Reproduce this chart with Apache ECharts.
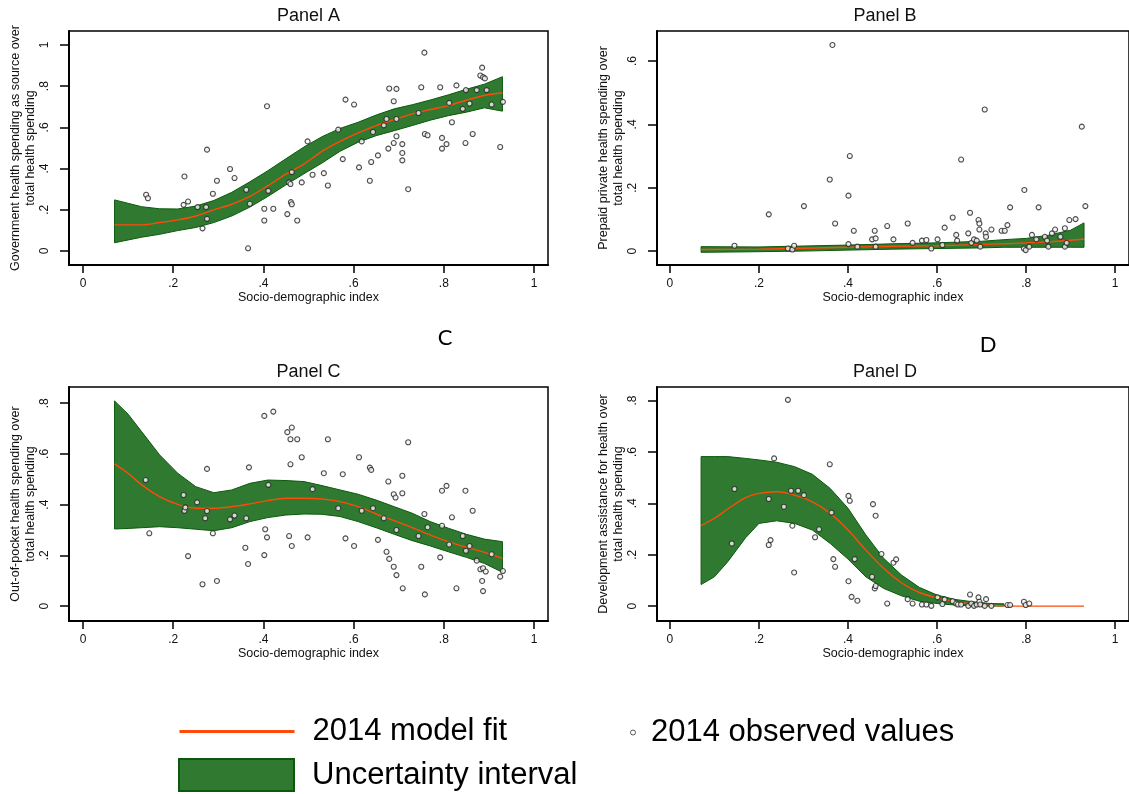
<!DOCTYPE html>
<html>
<head>
<meta charset="utf-8">
<script src="https://cdn.jsdelivr.net/npm/echarts@6/dist/echarts.min.js"></script>
<style>
html,body{margin:0;padding:0;background:#fff;}
#chart{width:1129px;height:794px;}
</style>
</head>
<body>
<div id="chart"></div>
<script>
// ---------- tick values / labels ----------
const sdiTicks = [0, 0.2, 0.4, 0.6, 0.8, 1];
const tickLabels = ['0', '.2', '.4', '.6', '.8', '1'];
const aYTicks = [0, 0.2, 0.4, 0.6, 0.8, 1];
const bYTicks = [0, 0.2, 0.4, 0.6];
const cYTicks = [0, 0.2, 0.4, 0.6, 0.8];
const dYTicks = [0, 0.2, 0.4, 0.6, 0.8];

const panelTitles = ['Panel A', 'Panel B', 'Panel C', 'Panel D'];
const xTitle = 'Socio-demographic index';
const yTitles = [
  'Government health spending as source over\ntotal health spending',
  'Prepaid private health spending over\ntotal health spending',
  'Out-of-pocket health spending over\ntotal health spending',
  'Development assistance for health over\ntotal health spending'
];

// ---------- Panel A ----------
const aX = [0.07,0.13,0.17,0.21,0.25,0.29,0.33,0.37,0.41,0.45,0.49,0.53,0.57,0.61,0.65,0.69,0.73,0.77,0.81,0.85,0.89,0.93];
const aFit = [0.127,0.127,0.138,0.151,0.170,0.200,0.227,0.265,0.317,0.373,0.422,0.484,0.532,0.573,0.609,0.638,0.666,0.687,0.706,0.732,0.755,0.768];
const aUpper = [0.248,0.215,0.205,0.204,0.218,0.245,0.285,0.336,0.390,0.448,0.505,0.555,0.595,0.625,0.660,0.690,0.710,0.733,0.758,0.785,0.810,0.846];
const aLower = [0.040,0.067,0.081,0.099,0.114,0.138,0.170,0.213,0.265,0.321,0.375,0.427,0.484,0.528,0.560,0.584,0.609,0.635,0.657,0.674,0.695,0.679];
const aObs = [[0.140,0.273],[0.144,0.256],[0.225,0.362],[0.223,0.224],[0.233,0.24],[0.254,0.213],[0.265,0.11],[0.273,0.213],[0.275,0.156],[0.275,0.492],[0.288,0.278],[0.297,0.341],[0.326,0.398],[0.336,0.354],[0.362,0.297],[0.366,0.013],[0.37,0.229],[0.402,0.205],[0.402,0.148],[0.408,0.703],[0.411,0.292],[0.422,0.205],[0.453,0.179],[0.457,0.333],[0.46,0.325],[0.461,0.237],[0.463,0.227],[0.463,0.383],[0.475,0.148],[0.485,0.333],[0.498,0.532],[0.509,0.37],[0.534,0.378],[0.543,0.318],[0.566,0.589],[0.576,0.446],[0.582,0.735],[0.601,0.711],[0.612,0.406],[0.618,0.532],[0.636,0.341],[0.639,0.432],[0.643,0.578],[0.654,0.464],[0.667,0.61],[0.673,0.641],[0.677,0.497],[0.679,0.789],[0.689,0.727],[0.689,0.524],[0.695,0.787],[0.695,0.641],[0.695,0.557],[0.708,0.519],[0.708,0.476],[0.708,0.44],[0.721,0.3],[0.744,0.67],[0.75,0.795],[0.757,0.963],[0.758,0.568],[0.764,0.562],[0.792,0.795],[0.796,0.549],[0.796,0.497],[0.806,0.519],[0.812,0.719],[0.818,0.625],[0.828,0.804],[0.842,0.69],[0.848,0.524],[0.849,0.781],[0.857,0.716],[0.864,0.568],[0.873,0.781],[0.881,0.852],[0.885,0.89],[0.887,0.844],[0.891,0.838],[0.895,0.781],[0.906,0.711],[0.925,0.505],[0.931,0.724]];

// ---------- Panel B ----------
const bX = [0.07,0.20,0.30,0.40,0.50,0.60,0.70,0.75,0.80,0.85,0.90,0.93];
const bFit = [0.005,0.006,0.009,0.012,0.015,0.017,0.021,0.023,0.026,0.029,0.034,0.038];
const bUpper = [0.014,0.013,0.016,0.019,0.023,0.026,0.031,0.036,0.040,0.050,0.066,0.089];
const bLower = [-0.004,-0.002,0.000,0.003,0.006,0.008,0.010,0.012,0.012,0.012,0.012,0.012];
const bObs = [[0.145,0.017],[0.222,0.116],[0.265,0.008],[0.275,0.005],[0.279,0.017],[0.301,0.142],[0.359,0.226],[0.365,0.651],[0.371,0.087],[0.401,0.175],[0.401,0.022],[0.404,0.3],[0.413,0.064],[0.421,0.014],[0.454,0.037],[0.46,0.064],[0.462,0.04],[0.462,0.014],[0.488,0.079],[0.502,0.037],[0.534,0.087],[0.545,0.026],[0.566,0.033],[0.576,0.035],[0.587,0.008],[0.601,0.037],[0.612,0.019],[0.617,0.074],[0.635,0.106],[0.643,0.051],[0.645,0.033],[0.654,0.289],[0.67,0.056],[0.674,0.121],[0.677,0.026],[0.683,0.037],[0.689,0.033],[0.693,0.098],[0.695,0.087],[0.695,0.068],[0.697,0.014],[0.707,0.447],[0.709,0.056],[0.71,0.045],[0.722,0.068],[0.745,0.064],[0.752,0.064],[0.758,0.082],[0.764,0.138],[0.795,0.008],[0.796,0.193],[0.799,0.003],[0.807,0.014],[0.813,0.051],[0.823,0.037],[0.828,0.138],[0.842,0.045],[0.847,0.033],[0.85,0.014],[0.858,0.056],[0.865,0.068],[0.877,0.045],[0.887,0.072],[0.887,0.014],[0.891,0.026],[0.897,0.098],[0.911,0.101],[0.925,0.393],[0.933,0.142]];

// ---------- Panel C ----------
const cX = [0.07,0.10,0.13,0.17,0.21,0.25,0.29,0.33,0.37,0.41,0.45,0.49,0.53,0.57,0.61,0.65,0.69,0.73,0.77,0.81,0.85,0.89,0.93];
const cFit = [0.561,0.524,0.478,0.432,0.401,0.386,0.386,0.392,0.403,0.416,0.425,0.425,0.422,0.412,0.392,0.363,0.337,0.309,0.280,0.254,0.232,0.212,0.188];
const cUpper = [0.809,0.757,0.688,0.596,0.524,0.471,0.447,0.458,0.484,0.497,0.495,0.491,0.475,0.458,0.441,0.418,0.392,0.366,0.333,0.307,0.283,0.264,0.254];
const cLower = [0.304,0.306,0.309,0.313,0.309,0.303,0.297,0.309,0.333,0.349,0.359,0.363,0.362,0.353,0.333,0.309,0.283,0.258,0.237,0.214,0.192,0.168,0.133];
const cObs = [[0.139,0.497],[0.147,0.287],[0.223,0.438],[0.225,0.376],[0.227,0.389],[0.233,0.197],[0.253,0.409],[0.265,0.086],[0.271,0.346],[0.275,0.541],[0.275,0.375],[0.288,0.287],[0.297,0.099],[0.326,0.342],[0.336,0.357],[0.36,0.23],[0.362,0.346],[0.366,0.166],[0.368,0.547],[0.402,0.201],[0.402,0.75],[0.404,0.303],[0.408,0.271],[0.411,0.478],[0.422,0.767],[0.453,0.686],[0.457,0.276],[0.46,0.658],[0.46,0.559],[0.463,0.237],[0.463,0.704],[0.475,0.658],[0.485,0.587],[0.498,0.271],[0.509,0.461],[0.534,0.524],[0.543,0.658],[0.566,0.386],[0.576,0.52],[0.582,0.267],[0.601,0.237],[0.612,0.587],[0.618,0.376],[0.636,0.546],[0.639,0.537],[0.643,0.386],[0.654,0.261],[0.667,0.346],[0.673,0.214],[0.677,0.491],[0.679,0.186],[0.689,0.441],[0.689,0.155],[0.693,0.428],[0.695,0.122],[0.695,0.3],[0.708,0.514],[0.708,0.445],[0.709,0.07],[0.721,0.646],[0.744,0.276],[0.75,0.155],[0.757,0.363],[0.758,0.046],[0.764,0.311],[0.792,0.192],[0.796,0.317],[0.796,0.455],[0.806,0.474],[0.812,0.243],[0.818,0.35],[0.828,0.07],[0.842,0.276],[0.848,0.455],[0.849,0.218],[0.857,0.237],[0.864,0.376],[0.873,0.179],[0.881,0.145],[0.885,0.099],[0.887,0.059],[0.887,0.149],[0.893,0.136],[0.906,0.204],[0.925,0.116],[0.931,0.138]];

// ---------- Panel D ----------
const dBandX = [0.07,0.10,0.13,0.17,0.20,0.24,0.28,0.32,0.36,0.40,0.44,0.48,0.52,0.56,0.60,0.64,0.68,0.72,0.75];
const dUpper = [0.582,0.582,0.582,0.575,0.569,0.560,0.543,0.513,0.458,0.381,0.277,0.186,0.121,0.073,0.043,0.026,0.017,0.010,0.009];
const dLower = [0.084,0.114,0.173,0.266,0.322,0.332,0.322,0.296,0.244,0.183,0.114,0.069,0.040,0.019,0.010,0.004,0.001,0.000,0.000];
const dFitX = [0.07,0.10,0.13,0.17,0.20,0.24,0.28,0.32,0.36,0.40,0.44,0.48,0.52,0.56,0.60,0.64,0.68,0.72,0.75,0.80,0.87,0.93];
const dFit = [0.313,0.342,0.378,0.422,0.439,0.445,0.432,0.406,0.361,0.296,0.218,0.147,0.091,0.053,0.032,0.017,0.009,0.004,0.001,0.000,0.000,0.000];
const dObs = [[0.139,0.244],[0.145,0.456],[0.222,0.417],[0.222,0.238],[0.226,0.257],[0.234,0.575],[0.256,0.387],[0.265,0.803],[0.272,0.449],[0.275,0.313],[0.279,0.131],[0.288,0.449],[0.301,0.432],[0.326,0.268],[0.335,0.299],[0.359,0.552],[0.363,0.364],[0.367,0.183],[0.371,0.153],[0.401,0.097],[0.401,0.429],[0.404,0.41],[0.408,0.036],[0.415,0.183],[0.421,0.021],[0.454,0.114],[0.456,0.397],[0.46,0.069],[0.462,0.078],[0.462,0.352],[0.475,0.203],[0.488,0.01],[0.502,0.169],[0.508,0.182],[0.534,0.027],[0.545,0.01],[0.566,0.006],[0.576,0.006],[0.587,0.001],[0.601,0.034],[0.612,0.008],[0.617,0.026],[0.635,0.019],[0.643,0.01],[0.647,0.006],[0.654,0.006],[0.67,0.001],[0.674,0.045],[0.677,0.01],[0.683,0.001],[0.689,0.006],[0.693,0.034],[0.695,0.017],[0.697,0.006],[0.707,0.001],[0.71,0.027],[0.722,0.001],[0.758,0.004],[0.764,0.004],[0.795,0.017],[0.799,0.004],[0.807,0.01]];

// ---------- styling ----------
const FONT = "'Liberation Sans', Arial, sans-serif";
const TXT = '#111';
const ORANGE = '#ff4a0a';
const GREEN = '#2f7a30';
const DKGREEN = '#0b5a0b';

const grids = [
  {left: 69, top: 31, width: 479, height: 234},
  {left: 657, top: 31, width: 480, height: 234},
  {left: 69, top: 387, width: 479, height: 234},
  {left: 657, top: 387, width: 480, height: 234}
];
const xRanges = [[-0.031, 1.031], [-0.029, 1.031], [-0.031, 1.031], [-0.029, 1.031]];
const yRanges = [[-0.068, 1.068], [-0.044, 0.695], [-0.059, 0.864], [-0.058, 0.853]];
const yTickSets = [aYTicks, bYTicks, cYTicks, dYTicks];

function fmtTick(v) {
  for (let i = 0; i < sdiTicks.length; i++) {
    if (Math.abs(sdiTicks[i] - v) < 1e-6) return tickLabels[i];
  }
  return '';
}

const xAxes = grids.map((g, i) => ({
  type: 'value', gridIndex: i, min: xRanges[i][0], max: xRanges[i][1],
  name: xTitle, nameLocation: 'middle', nameGap: 26,
  nameTextStyle: {fontFamily: FONT, fontSize: 12.5, color: TXT},
  axisLine: {show: true, onZero: false, lineStyle: {color: '#000', width: 2}},
  axisTick: {show: true, length: 8, customValues: sdiTicks, lineStyle: {color: '#000', width: 1.5}},
  axisLabel: {show: true, customValues: sdiTicks, formatter: fmtTick, margin: 13,
    fontFamily: FONT, fontSize: 12, color: TXT},
  splitLine: {show: false}
}));

const yAxes = grids.map((g, i) => ({
  type: 'value', gridIndex: i, min: yRanges[i][0], max: yRanges[i][1],
  name: yTitles[i], nameLocation: 'middle', nameRotate: 90, nameGap: 31,
  nameTextStyle: {fontFamily: FONT, fontSize: 12.5, lineHeight: 15, color: TXT, align: 'center'},
  axisLine: {show: true, onZero: false, lineStyle: {color: '#000', width: 2}},
  axisTick: {show: true, length: 9, customValues: yTickSets[i], lineStyle: {color: '#000', width: 1.5}},
  axisLabel: {show: true, customValues: yTickSets[i], formatter: fmtTick, rotate: 90, margin: 18,
    fontFamily: FONT, fontSize: 12, color: TXT},
  splitLine: {show: false}
}));

function band(i, xs, lo, hi) {
  return {
    type: 'custom', name: 'Uncertainty interval', coordinateSystem: 'cartesian2d',
    xAxisIndex: i, yAxisIndex: i, z: 1, silent: true,
    itemStyle: {color: GREEN, borderColor: DKGREEN, borderWidth: 2},
    data: [[xs[0], lo[0]]],
    renderItem: function (params, api) {
      const pts = [];
      for (let k = 0; k < xs.length; k++) pts.push(api.coord([xs[k], hi[k]]));
      for (let k = xs.length - 1; k >= 0; k--) pts.push(api.coord([xs[k], lo[k]]));
      return {type: 'polygon', shape: {points: pts},
        style: {fill: GREEN, stroke: DKGREEN, lineWidth: 1}};
    }
  };
}
function fit(i, xs, ys) {
  return {
    type: 'line', name: '2014 model fit', xAxisIndex: i, yAxisIndex: i, z: 3,
    symbol: 'none', smooth: 0.3, silent: true,
    lineStyle: {color: ORANGE, width: 1.4}, itemStyle: {color: ORANGE},
    data: xs.map((x, k) => [x, ys[k]])
  };
}
function obs(i, pts) {
  return {
    type: 'scatter', name: '2014 observed values', xAxisIndex: i, yAxisIndex: i, z: 4,
    symbol: 'circle', symbolSize: 5, silent: true,
    itemStyle: {color: '#f4f4f4', borderColor: '#222', borderWidth: 1.1},
    data: pts
  };
}

const series = [
  band(0, aX, aLower, aUpper), fit(0, aX, aFit), obs(0, aObs),
  band(1, bX, bLower, bUpper), fit(1, bX, bFit), obs(1, bObs),
  band(2, cX, cLower, cUpper), fit(2, cX, cFit), obs(2, cObs),
  band(3, dBandX, dLower, dUpper), fit(3, dFitX, dFit), obs(3, dObs)
];

const titleGraphics = grids.map((g, i) => ({
  type: 'text', x: g.left + (i % 2 === 0 ? 239.5 : 228), y: g.top - 15,
  style: {text: panelTitles[i], fontFamily: FONT, fontSize: 18, fill: TXT, align: 'center', verticalAlign: 'middle'}
}));

const option = {
  animation: false,
  backgroundColor: '#fff',
  grid: grids.map(g => Object.assign({show: true, borderColor: '#000', borderWidth: 1.5, backgroundColor: '#fff'}, g)),
  xAxis: xAxes,
  yAxis: yAxes,
  legend: [
    {data: [{name: '2014 model fit'}], left: 178, top: 716, padding: 0, orient: 'horizontal',
      itemWidth: 115, itemHeight: 6, selectedMode: false,
      lineStyle: {width: 3, color: ORANGE},
      itemStyle: {opacity: 0},
      textStyle: {fontFamily: FONT, fontSize: 31, color: '#000', padding: [0, 0, 0, 13]}},
    {data: [{name: 'Uncertainty interval', icon: 'rect'}], left: 178, top: 758, padding: 0,
      itemWidth: 115, itemHeight: 32, selectedMode: false,
      itemStyle: {color: GREEN, borderColor: DKGREEN, borderWidth: 2},
      textStyle: {fontFamily: FONT, fontSize: 31, color: '#000', padding: [0, 0, 0, 13]}},
    {data: [{name: '2014 observed values', icon: 'circle'}], left: 630, top: 717, padding: 0,
      itemWidth: 26, itemHeight: 5, selectedMode: false,
      itemStyle: {color: '#fff', borderColor: '#333', borderWidth: 1},
      textStyle: {fontFamily: FONT, fontSize: 31, color: '#000'}}
  ],
  graphic: titleGraphics.concat([
    {type: 'text', x: 445, y: 338, style: {text: 'C', fontFamily: "Lato, 'Noto Sans', sans-serif", fontSize: 22, fill: '#000', align: 'center', verticalAlign: 'middle'}},
    {type: 'text', x: 988, y: 345, style: {text: 'D', fontFamily: "Lato, 'Noto Sans', sans-serif", fontSize: 22, fill: '#000', align: 'center', verticalAlign: 'middle'}}
  ]),
  series: series
};

const chart = echarts.init(document.getElementById('chart'), null, {renderer: 'canvas'});
chart.setOption(option);
</script>
</body>
</html>
